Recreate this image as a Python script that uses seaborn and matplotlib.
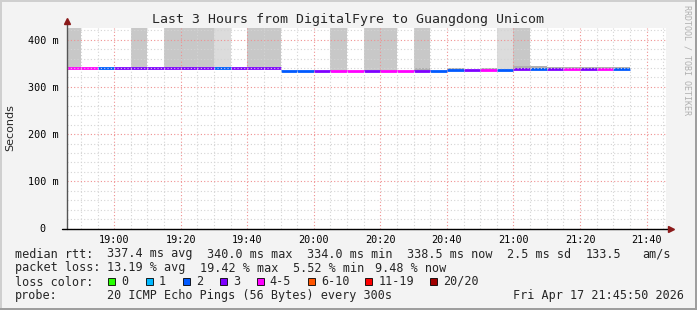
import numpy as np
import pandas as pd
import matplotlib
matplotlib.use("Agg")
import matplotlib.pyplot as plt
import seaborn as sns
from matplotlib.ticker import MultipleLocator, FuncFormatter
from matplotlib.patches import Rectangle

# ---------------- data ----------------
interval_start = ["18:45", "18:50", "18:55", "19:00", "19:05", "19:10", "19:15", "19:20",
                  "19:25", "19:30", "19:35", "19:40", "19:45", "19:50", "19:55", "20:00",
                  "20:05", "20:10", "20:15", "20:20", "20:25", "20:30", "20:35", "20:40",
                  "20:45", "20:50", "20:55", "21:00", "21:05", "21:10", "21:15", "21:20",
                  "21:25", "21:30"]
median_ms = [340, 340, 340, 340, 340, 340, 340, 340, 340, 340, 340, 340, 340,
             334, 334, 334, 334, 334, 334, 334, 334, 334, 334,
             336, 336, 336, 336,
             338, 338, 338, 338, 338, 338, 338.5]
loss_pings = [4, 4, 2, 3, 3, 3, 3, 3, 3, 2, 3, 3, 3,
              2, 2, 3, 4, 4, 3, 4, 4, 3, 2,
              2, 3, 4, 2,
              3, 2, 3, 4, 3, 4, 2]
# off-scale ping maxima (smoke spikes); nan = none
spike_ms = [900, np.nan, np.nan, np.nan, 900, np.nan, 900, 900, 900, 900, np.nan, 900, 900,
            np.nan, np.nan, np.nan, 900, np.nan, 900, 900, np.nan, 900, np.nan,
            np.nan, np.nan, np.nan, 900,
            900, np.nan, np.nan, np.nan, np.nan, np.nan, np.nan]
spike_pings = [3, 0, 0, 0, 3, 0, 3, 3, 3, 1, 0, 3, 3,
               0, 0, 0, 3, 0, 3, 3, 0, 3, 0,
               0, 0, 0, 1,
               3, 0, 0, 0, 0, 0, 0]
# near-median smoke band
band_lo = [np.nan] * 21 + [334, np.nan, 336, np.nan, 336, np.nan,
                           335, 335, 335, 335, 335, 335, 335]
band_hi = [np.nan] * 21 + [341, np.nan, 339.5, np.nan, 339, np.nan,
                           344, 344, 342, 342, 342, 342, 342]

loss_labels = ["0", "1", "2", "3", "4-5", "6-10", "11-19", "20/20"]
loss_colors = ["#26ff00", "#00b8ff", "#0059ff", "#7e00ff", "#ff00ff", "#ff5500", "#ff0000", "#a10000"]

title = "Last 3 Hours from DigitalFyre to Guangdong Unicom"
x_start_min = 18 * 60 + 45 + 50 / 60
x_end_min = 21 * 60 + 45 + 50 / 60


def loss_class(n):
    if n <= 3:
        return loss_labels[n]
    if n <= 5:
        return "4-5"
    if n <= 10:
        return "6-10"
    if n <= 19:
        return "11-19"
    return "20/20"


def to_min(s):
    h, m = s.split(":")
    return int(h) * 60 + int(m)


starts = np.array([to_min(s) for s in interval_start], dtype=float)
step = 5.0

rows = []
for i, (t, v, l) in enumerate(zip(starts, median_ms, loss_pings)):
    rows.append(dict(t=t, ms=v, seg=i, loss=loss_class(l)))
    rows.append(dict(t=t + step, ms=v, seg=i, loss=loss_class(l)))
seg_df = pd.DataFrame(rows)

# ---------------- figure ----------------
sns.set_theme(style="white")
plt.rcParams["font.family"] = ["DejaVu Sans Mono", "DejaVu Sans"]

W, H = 697, 310
BG = "#f3f3f3"
fig = plt.figure(figsize=(W / 100, H / 100), dpi=100, facecolor=BG)

L, R, T, B = 67, 666, 28, 228.5
ax = fig.add_axes([L / W, 1 - B / H, (R - L) / W, (B - T) / H])
ax.set_facecolor("white")
ax.set_xlim(x_start_min, x_end_min)
ax.set_ylim(0, 424.8)

# smoke spikes
spike_arr = np.array(spike_ms, dtype=float)
med = np.array(median_ms, dtype=float)
mask = ~np.isnan(spike_arr)
shade = np.where(np.array(spike_pings) >= 2, "#c8c8c8", "#dcdcdc")
ax.bar(starts[mask], spike_arr[mask] - med[mask], bottom=med[mask], width=step,
       align="edge", color=list(shade[mask]), linewidth=0, zorder=1)
# near-median smoke band
blo = np.array(band_lo, dtype=float)
bhi = np.array(band_hi, dtype=float)
bm = ~np.isnan(blo)
ax.bar(starts[bm], bhi[bm] - blo[bm], bottom=blo[bm], width=step,
       align="edge", color="#b0b0b0", linewidth=0, zorder=1.2)

# median line coloured by loss
palette = dict(zip(loss_labels, loss_colors))
sns.lineplot(data=seg_df, x="t", y="ms", hue="loss", units="seg", estimator=None,
             palette=palette, legend=False, linewidth=2, sort=False, ax=ax,
             solid_capstyle="butt", zorder=2)

# grid
ax.xaxis.set_major_locator(MultipleLocator(20))
ax.xaxis.set_minor_locator(MultipleLocator(5))
ax.yaxis.set_major_locator(MultipleLocator(100))
ax.yaxis.set_minor_locator(MultipleLocator(20))
ax.set_axisbelow(False)
ax.grid(which="minor", color="#d4d4d4", linestyle=(0, (1, 2)), linewidth=0.8)
ax.grid(which="major", color="#f09090", linestyle=(0, (1, 2)), linewidth=0.8)

ax.xaxis.set_major_formatter(FuncFormatter(lambda v, p: f"{int(v) // 60:02d}:{int(v) % 60:02d}"))
ax.yaxis.set_major_formatter(FuncFormatter(lambda v, p: "0  " if v == 0 else f"{int(round(v))} m"))
ax.set_xlabel("")
ax.set_ylabel("")
ax.tick_params(axis="both", which="major", labelsize=7.3, colors="#000000", length=3,
               width=0.7, direction="out", pad=2)
ax.tick_params(axis="both", which="minor", length=2, width=0.7, direction="out", color="#555555")
ax.tick_params(axis="y", which="major", pad=3)
for s in ax.spines.values():
    s.set_visible(False)

# axis lines with arrows
ax.plot([0, 0], [0, 1.035], transform=ax.transAxes, color="#555555", lw=1, clip_on=False, zorder=6)
ax.plot([0], [1.035], transform=ax.transAxes, marker="^", color="#8b1a1a", ms=4, clip_on=False, zorder=7)
ax.plot([-0.008, 1.008], [0, 0], transform=ax.transAxes, color="#000000", lw=1, clip_on=False, zorder=6)
ax.plot([1.008], [0], transform=ax.transAxes, marker=">", color="#8b1a1a", ms=4, clip_on=False, zorder=7)

# title, y label, watermark
fig.text(348 / W, 1 - 19 / H, title, ha="center", va="center", fontsize=9.5)
fig.text(10 / W, 1 - 128 / H, "Seconds", rotation=90, ha="center", va="center",
         fontsize=8, family="DejaVu Sans")
fig.text(687.5 / W, 1 - 60 / H, "RRDTOOL / TOBI OETIKER", rotation=-90, ha="center",
         va="center", fontsize=6, color="#b0b0b0")


def ftext(x, y, s, **kw):
    fig.text((x - 0.7) / W, 1 - y / H, s, ha="left", va="center", fontsize=8.5, **kw)


r1, r2, r3, r4 = 254, 268, 282, 296
ftext(16, r1, "median rtt:")
for x, s in [(107.3, "337.4 ms avg"), (207.3, "340.0 ms max"), (307.3, "334.0 ms min"),
             (407.3, "338.5 ms now"), (507.3, "2.5 ms sd"), (586.7, "133.5"), (642.7, "am/s")]:
    ftext(x, r1, s)
ftext(16, r2, "packet loss:")
for x, s in [(108, "13.19 % avg"), (200.7, "19.42 % max"), (293.3, "5.52 % min"), (375.3, "9.48 % now")]:
    ftext(x, r2, s)
ftext(16, r3, "loss color:")
sq_x = [108, 145.5, 182.5, 219.5, 256.5, 307.5, 365, 430]
for x, lab, col in zip(sq_x, loss_labels, loss_colors):
    fig.patches.append(Rectangle((x / W, 1 - 284.5 / H), 7 / W, 7 / H, transform=fig.transFigure,
                                 facecolor=col, edgecolor="#000000", linewidth=0.6))
    ftext(x + 14, r3 - 0.5, lab)
ftext(16, r4, "probe:")
ftext(107.3, r4, "20 ICMP Echo Pings (56 Bytes) every 300s")
ftext(513.3, r4, "Fri Apr 17 21:45:50 2026")

# 3D frame
fig.patches.append(Rectangle((0, 1 - 2 / H), 1, 2 / H, transform=fig.transFigure, facecolor="#cfcfcf", lw=0))
fig.patches.append(Rectangle((0, 0), 2 / W, 1, transform=fig.transFigure, facecolor="#cfcfcf", lw=0))
fig.patches.append(Rectangle((1 - 2 / W, 0), 2 / W, 1, transform=fig.transFigure, facecolor="#9e9e9e", lw=0))
fig.patches.append(Rectangle((0, 0), 1, 2 / H, transform=fig.transFigure, facecolor="#9e9e9e", lw=0))

fig.savefig("out.png", dpi=100, facecolor=BG)
